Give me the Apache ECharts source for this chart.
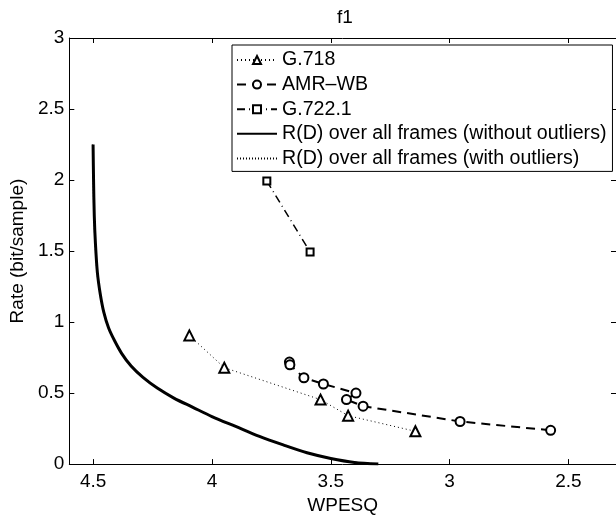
<!DOCTYPE html>
<html>
<head>
<meta charset="utf-8">
<script src="https://cdn.jsdelivr.net/npm/echarts@6/dist/echarts.min.js"></script>
<style>
  html, body { margin: 0; padding: 0; background: #ffffff; }
  #chart { width: 616px; height: 520px; }
</style>
</head>
<body>
<div id="chart"></div>
<script>
// Operating points of each codec: WPESQ score vs. rate
const g718Wpesq = [4.095, 3.948, 3.543, 3.427, 3.144];
const g718Rate  = [0.906, 0.679, 0.454, 0.341, 0.231];

const amrWpesq = [3.674, 3.672, 3.613, 3.531, 3.394, 3.434, 3.364, 2.956, 2.575];
const amrRate  = [0.718, 0.699, 0.608, 0.564, 0.500, 0.454, 0.408, 0.300, 0.238];

const g7221Wpesq = [3.769, 3.587];
const g7221Rate  = [1.993, 1.493];

// Rate-distortion bound over all frames
const rdWpesq = [4.500, 4.498, 4.495, 4.490, 4.482, 4.470, 4.455, 4.435, 4.410, 4.380,
                 4.340, 4.290, 4.230, 4.160, 4.080, 4.000, 3.900, 3.800, 3.700, 3.600,
                 3.500, 3.400, 3.300];
const rdRate  = [2.250, 2.000, 1.750, 1.550, 1.350, 1.200, 1.070, 0.960, 0.870, 0.780,
                 0.690, 0.610, 0.535, 0.465, 0.400, 0.335, 0.265, 0.195, 0.135, 0.080,
                 0.040, 0.012, 0.000];
const rdOutWpesq = [4.502, 4.500, 4.497, 4.492, 4.484, 4.472, 4.457, 4.437, 4.412, 4.382,
                    4.342, 4.292, 4.232, 4.162, 4.082, 4.002, 3.902, 3.802, 3.702, 3.602,
                    3.502, 3.402, 3.302];
const rdOutRate  = [2.250, 2.000, 1.750, 1.550, 1.352, 1.203, 1.073, 0.963, 0.873, 0.783,
                    0.693, 0.613, 0.538, 0.468, 0.403, 0.338, 0.268, 0.198, 0.138, 0.083,
                    0.043, 0.015, 0.002];

const xTicks = [4.5, 4, 3.5, 3, 2.5];
const seriesNames = ['G.718', 'AMR\u2013WB', 'G.722.1',
  'R(D) over all frames (without outliers)', 'R(D) over all frames (with outliers)'];

const pairs = (xs, ys) => xs.map((x, i) => [x, ys[i]]);
const FONT = '"Liberation Sans", Arial, Helvetica, sans-serif';
const FS = 19;

const chart = echarts.init(document.getElementById('chart'), null, { renderer: 'canvas' });

const tickStyle = { show: true, inside: true, length: 5, lineStyle: { color: '#000', width: 1 } };
const lineStyle = { show: true, onZero: false, lineStyle: { color: '#000', width: 1 } };

chart.setOption({
  animation: false,
  backgroundColor: '#ffffff',
  textStyle: { fontFamily: FONT, color: '#000' },
  title: {
    text: 'f1',
    left: 340,
    top: 3,
    textAlign: 'center',
    textStyle: { fontFamily: FONT, fontSize: FS, fontWeight: 'normal', color: '#000' }
  },
  grid: { left: 64, right: 0, top: 38, bottom: 46, containLabel: false },
  legend: {
    data: [
      { name: seriesNames[0] },
      { name: seriesNames[1] },
      { name: seriesNames[2] },
      { name: seriesNames[3], itemStyle: { opacity: 0 } },
      { name: seriesNames[4], itemStyle: { opacity: 0 } }
    ],
    orient: 'vertical',
    left: 232,
    top: 45,
    padding: [5, 6, 3, 4],
    itemGap: 4.6,
    itemWidth: 40,
    itemHeight: 10,
    backgroundColor: '#ffffff',
    borderColor: '#000',
    borderWidth: 1,
    borderRadius: 0,
    textStyle: { fontFamily: FONT, fontSize: 19.6, color: '#000', lineHeight: 19 }
  },
  xAxis: [
    {
      type: 'value', inverse: true, min: 2.3, max: 4.6, position: 'bottom',
      name: 'WPESQ', nameLocation: 'middle', nameGap: 29,
      nameTextStyle: { fontFamily: FONT, fontSize: FS, color: '#000' },
      axisLine: lineStyle,
      axisTick: Object.assign({ customValues: xTicks }, tickStyle),
      axisLabel: { customValues: xTicks, margin: 8, fontFamily: FONT, fontSize: FS, color: '#000' },
      splitLine: { show: false }
    },
    {
      type: 'value', inverse: true, min: 2.3, max: 4.6, position: 'top',
      axisLine: lineStyle,
      axisTick: Object.assign({ customValues: xTicks }, tickStyle),
      axisLabel: { show: false },
      splitLine: { show: false }
    }
  ],
  yAxis: [
    {
      type: 'value', min: 0, max: 3, interval: 0.5, position: 'left',
      name: 'Rate (bit/sample)', nameLocation: 'middle', nameGap: 40,
      nameTextStyle: { fontFamily: FONT, fontSize: FS, color: '#000' },
      axisLine: lineStyle,
      axisTick: tickStyle,
      axisLabel: { margin: 5, fontFamily: FONT, fontSize: FS, color: '#000' },
      splitLine: { show: false }
    },
    {
      type: 'value', min: 0, max: 3, interval: 0.5, position: 'right',
      axisLine: lineStyle,
      axisTick: tickStyle,
      axisLabel: { show: false },
      splitLine: { show: false }
    }
  ],
  series: [
    {
      name: seriesNames[0], type: 'line', data: pairs(g718Wpesq, g718Rate),
      symbol: 'emptyTriangle', symbolSize: 10, showAllSymbol: true,
      itemStyle: { color: '#000', borderWidth: 2 },
      lineStyle: { color: '#000', width: 1, type: [1, 3] },
      z: 4
    },
    {
      name: seriesNames[1], type: 'line', data: pairs(amrWpesq, amrRate),
      symbol: 'emptyCircle', symbolSize: 9, showAllSymbol: true,
      itemStyle: { color: '#000', borderWidth: 2 },
      lineStyle: { color: '#000', width: 2, type: [9, 6] },
      z: 4
    },
    {
      name: seriesNames[2], type: 'line', data: pairs(g7221Wpesq, g7221Rate),
      symbol: 'emptyRect', symbolSize: 7, showAllSymbol: true,
      itemStyle: { color: '#000', borderWidth: 2 },
      lineStyle: { color: '#000', width: 1.5, type: [8, 4, 1, 4] },
      z: 4
    },
    {
      name: seriesNames[3], type: 'line', data: pairs(rdWpesq, rdRate),
      symbol: 'none', smooth: 0.3,
      itemStyle: { color: '#000' },
      lineStyle: { color: '#000', width: 3, type: 'solid' },
      z: 3
    },
    {
      name: seriesNames[4], type: 'line', data: pairs(rdOutWpesq, rdOutRate),
      symbol: 'none', smooth: 0.3,
      itemStyle: { color: '#000' },
      lineStyle: { color: '#000', width: 1, type: [1, 2] },
      z: 2
    }
  ]
});
</script>
</body>
</html>
